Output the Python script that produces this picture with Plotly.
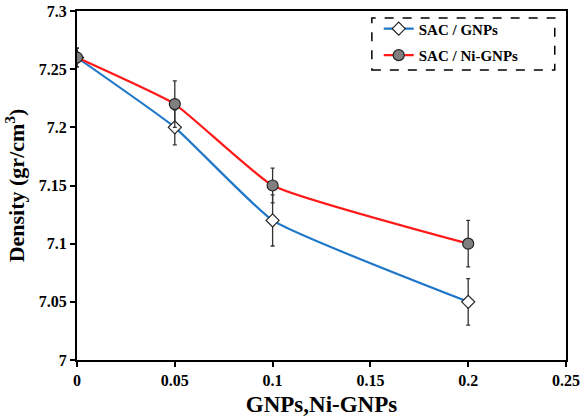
import plotly.graph_objects as go

# GNP content (wt.%) and measured density
gnp_content = [0, 0.05, 0.1, 0.2]
density_gnps = [7.26, 7.20, 7.12, 7.05]
err_gnps = [0.008, 0.015, 0.022, 0.02]
density_ni_gnps = [7.26, 7.22, 7.15, 7.10]
err_ni_gnps = [0.008, 0.02, 0.015, 0.02]

x_ticks = [0, 0.05, 0.1, 0.15, 0.2, 0.25]
y_ticks = [7, 7.05, 7.1, 7.15, 7.2, 7.25, 7.3]

font_family = "Liberation Serif"

fig = go.Figure()

fig.add_trace(go.Scatter(
    x=gnp_content, y=density_gnps, name="SAC / GNPs",
    legendgroup="a",
    mode="lines+markers",
    line=dict(color="#1f77c9", width=2.2, shape="spline", smoothing=0.4),
    marker=dict(symbol="diamond", size=10, color="white",
                line=dict(color="#222222", width=1.2)),
    error_y=dict(type="data", array=err_gnps, visible=True,
                 color="#333333", thickness=1.3, width=2),
))

fig.add_trace(go.Scatter(
    x=gnp_content, y=density_ni_gnps, name="SAC / Ni-GNPs",
    legendgroup="b",
    mode="lines+markers",
    line=dict(color="#ff1a1a", width=2.2, shape="spline", smoothing=0.4),
    marker=dict(symbol="circle", size=11, color="#7f7f7f",
                line=dict(color="#222222", width=1.2)),
    error_y=dict(type="data", array=err_ni_gnps, visible=True,
                 color="#333333", thickness=1.3, width=2),
))

# dashed frame around the legend
fig.add_shape(type="rect", xref="paper", yref="paper",
              x0=0.603, x1=0.977, y0=0.831, y1=0.98,
              line=dict(color="black", width=1.5, dash="dash"),
              fillcolor="white", layer="below")

fig.update_layout(
    width=584, height=419,
    margin=dict(l=77, r=18, t=11, b=59),
    paper_bgcolor="white", plot_bgcolor="white",
    font=dict(family=font_family, color="black"),
    showlegend=True,
    legend=dict(x=0.617, y=0.996, xanchor="left", yanchor="top",
                bgcolor="rgba(0,0,0,0)", borderwidth=0,
                font=dict(family=font_family, size=15, color="black", weight="bold"),
                itemwidth=30, tracegroupgap=4),
    xaxis=dict(
        range=[0, 0.25], tickvals=x_ticks, automargin=False,
        ticktext=[f"{v:g}" for v in x_ticks],
        showgrid=False, zeroline=False,
        showline=True, linecolor="black", linewidth=2, mirror=True,
        ticks="outside", ticklen=5, tickwidth=2, tickcolor="black",
        tickfont=dict(family=font_family, size=16, color="black", weight="bold"),
        title=dict(text="GNPs,Ni-GNPs", standoff=8,
                   font=dict(family=font_family, size=23, color="black", weight="bold")),
    ),
    yaxis=dict(
        range=[7, 7.3], tickvals=y_ticks, automargin=False,
        ticktext=[f"{v:g}" for v in y_ticks],
        showgrid=False, zeroline=False,
        showline=True, linecolor="black", linewidth=2, mirror=True,
        ticks="outside", ticklen=5, tickwidth=2, tickcolor="black",
        tickfont=dict(family=font_family, size=16, color="black", weight="bold"),
        title=dict(text="Density (gr/cm<sup>3</sup>)", standoff=8,
                   font=dict(family=font_family, size=22, color="black", weight="bold")),
    ),
)

fig.write_html("out.html")
